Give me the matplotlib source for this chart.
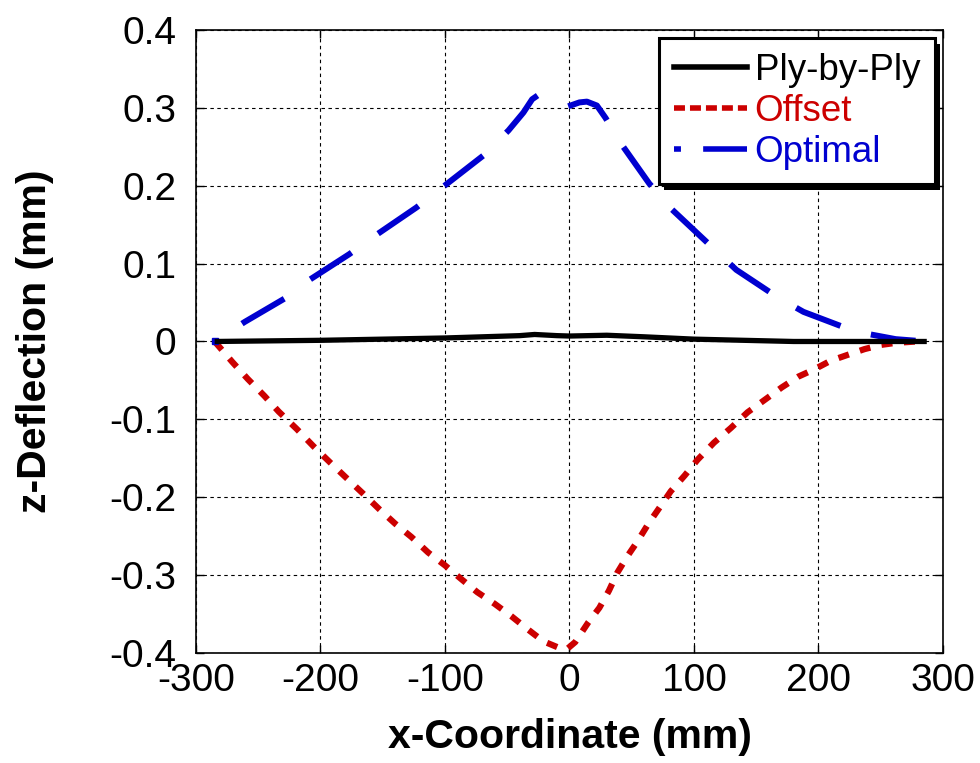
import numpy as np
import matplotlib
matplotlib.use('Agg')
import matplotlib.pyplot as plt
import matplotlib.patheffects as pe
from matplotlib.lines import Line2D

plt.rcParams['font.family'] = ['Liberation Sans', 'DejaVu Sans']
plt.rcParams['lines.scale_dashes'] = False
plt.rcParams['axes.unicode_minus'] = False

# Deflection profiles along the panel (x in mm, z in mm)
x_ply = [-285, -200, -100, -40, -28, -10, 0, 30, 60, 100, 140, 180, 230, 287]
z_ply = [0.0, 0.0015, 0.0045, 0.0075, 0.009, 0.0075, 0.007, 0.008, 0.006, 0.003, 0.0015, 0.0, 0.0, 0.0]

x_offset = [-285, -271, -258.5, -245, -233.6, -219, -206, -192.5, -180, -166, -153, -140,
            -127, -113.5, -100, -87, -74, -60, -46.5, -34, -21, -7.5, -2, 4.6, 15, 24,
            31.7, 38.4, 46.4, 54.5, 63.4, 72.5, 81.3, 92.6, 102.8, 116, 129.7, 143, 158,
            170.5, 184, 197, 209.7, 223.6, 237, 250.5, 262.5, 278.7, 282]
z_offset = [0.0, -0.026, -0.048, -0.070, -0.090, -0.1125, -0.134, -0.155, -0.174, -0.195,
            -0.215, -0.234, -0.251, -0.271, -0.2875, -0.305, -0.322, -0.337, -0.353, -0.369,
            -0.385, -0.394, -0.395, -0.386, -0.361, -0.342, -0.32, -0.297, -0.276, -0.257,
            -0.234, -0.213, -0.1925, -0.172, -0.152, -0.130, -0.111, -0.091, -0.0736,
            -0.059, -0.045, -0.0355, -0.0248, -0.0171, -0.0098, -0.0043, -0.0017, 0.0, 0.0]

# optimal profile: rising branch up to the peak, falling branch after it
x_opt_rise = [-285, -261, -229, -209, -177, -156, -123, -102, -69, -49, -37, -30, -21]
z_opt_rise = [0.0, 0.025, 0.055, 0.079, 0.112, 0.136, 0.172, 0.198, 0.239, 0.271, 0.294,
              0.311, 0.321]
x_opt_fall = [-1, 8, 14, 22, 29, 41, 64, 82, 116, 134, 167, 188, 221, 242, 262, 278]
z_opt_fall = [0.302, 0.307, 0.308, 0.303, 0.287, 0.255, 0.203, 0.170, 0.119, 0.092, 0.057,
              0.038, 0.018, 0.009, 0.003, 0.001]

x_ticks = [-300, -200, -100, 0, 100, 200, 300]
y_ticks = [-0.4, -0.3, -0.2, -0.1, 0, 0.1, 0.2, 0.3, 0.4]
y_ticklabels = ['-0.4', '-0.3', '-0.2', '-0.1', '0', '0.1', '0.2', '0.3', '0.4']

c_ply = 'black'
c_offset = '#cc0000'
c_opt = '#0000d0'

fig = plt.figure(figsize=(9.8, 7.63), dpi=100)
ax = fig.add_axes([0.2, 0.1442, 0.7622, 0.8165])

ax.plot(x_ply, z_ply, color=c_ply, lw=3.8, solid_capstyle='butt', zorder=4)
ax.plot(x_offset, z_offset, color=c_offset, lw=4.5,
        linestyle=(0, (7.9, 8.3)), dash_capstyle='butt', zorder=3)
ax.plot(x_opt_rise, z_opt_rise, color=c_opt, lw=4.3,
        linestyle=(35.3, (35.3, 23.5)), dash_capstyle='butt',
        marker='s', markevery=[0], ms=4, mfc=c_opt, mec=c_opt, zorder=3)
ax.plot(x_opt_fall, z_opt_fall, color=c_opt, lw=4.3,
        linestyle=(0, (34.5, 22.7)), dash_capstyle='butt', zorder=3)

ax.set_xlim(-300, 300)
ax.set_ylim(-0.4, 0.4)
ax.set_xticks(x_ticks)
ax.set_yticks(y_ticks)
ax.set_yticklabels(y_ticklabels)

ax.grid(True, color='black', linestyle=(0, (2.5, 2.5)), linewidth=0.8)
ax.tick_params(direction='in', top=True, right=True, length=6, width=1,
               labelsize=28)
ax.tick_params(axis='x', pad=7)
ax.tick_params(axis='y', pad=14)
for s in ax.spines.values():
    s.set_linewidth(1.2)

ax.set_xlabel('x-Coordinate (mm)', fontsize=29.5, fontweight='bold')
ax.set_ylabel('z-Deflection (mm)', fontsize=29.5, fontweight='bold')
ax.xaxis.set_label_coords(0.5, -0.105)
ax.yaxis.set_label_coords(-0.19, 0.5)

# legend handles with their own dash patterns
handles = [
    Line2D([], [], color=c_ply, lw=4.0),
    Line2D([], [], color=c_offset, lw=4.0, linestyle=(0, (7.9, 3.6)), dash_capstyle='butt'),
    Line2D([], [], color=c_opt, lw=4.0, linestyle=(0, (5, 16, 33, 20)), dash_capstyle='butt'),
]
leg = ax.legend(handles, ['Ply-by-Ply', 'Offset', 'Optimal'], loc='upper right',
                fontsize=26.5, labelcolor=[c_ply, c_offset, c_opt],
                fancybox=False, framealpha=1, edgecolor='black',
                handlelength=2.0, handletextpad=0.2, labelspacing=0.16,
                borderpad=0.4, borderaxespad=0.22)
frame = leg.get_frame()
frame.set_linewidth(2.2)
frame.set_path_effects([pe.SimplePatchShadow(offset=(4, -4), shadow_rgbFace='black', alpha=1),
                        pe.Normal()])
leg.set_zorder(10)

fig.savefig('out.png', dpi=100)
plt.close(fig)
